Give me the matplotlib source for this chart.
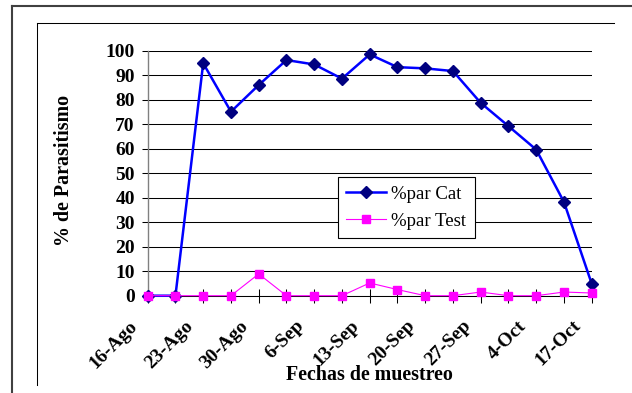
import matplotlib
matplotlib.use("Agg")
import matplotlib.pyplot as plt
import matplotlib.transforms as mtrans
from matplotlib.lines import Line2D
import numpy as np

# sampling dates (labels shown on every other sample)
fechas = ["16-Ago", "23-Ago", "30-Ago", "6-Sep", "13-Sep",
          "20-Sep", "27-Sep", "4-Oct", "17-Oct"]
par_cat = [0, 0, 95.0, 75.2, 86.1, 96.3, 94.5, 88.7, 98.6, 93.4,
           92.9, 91.8, 78.8, 69.3, 59.7, 38.3, 4.9]
par_test = [0, 0, 0, 0, 8.9, 0, 0, 0, 5.2, 2.5,
            0, 0, 1.5, 0, 0, 1.5, 1.1]

W, H = 632, 393
plt.rcParams['font.family'] = ['Liberation Serif', 'DejaVu Serif']

fig = plt.figure(figsize=(W / 100, H / 100), dpi=100)
fig.patch.set_facecolor("white")

def px(x, y):
    return x / W, 1 - y / H

# axes box in pixels: x 147.7..591.7, y 51..295.7
l, t = px(147.7, 51)
r, b = px(591.7, 295.7)
ax = fig.add_axes([l, b, r - l, t - b])

x = np.arange(len(par_cat))
ax.plot(x, par_cat, color="#0000FF", lw=1.8, marker="D", ms=6.5,
        mfc="#000080", mec="#000080", label="%par Cat", clip_on=False, zorder=3)
ax.plot(x, par_test, color="#FF00FF", lw=0.8, marker="s", ms=6,
        mfc="#FF00FF", mec="#FF00FF", label="%par Test", clip_on=False, zorder=4)

ax.set_xlim(0, len(par_cat) - 1)
ax.set_ylim(0, 100)
ax.set_yticks(np.arange(0, 101, 10))
ax.yaxis.grid(True, color="black", lw=0.75)
ax.set_axisbelow(True)

ax.set_xticks(x)
labels = []
for i in x:
    labels.append(fechas[i // 2] if i % 2 == 0 else "")
ax.set_xticklabels(labels, rotation=45, ha="right", va="bottom",
                   rotation_mode="anchor", fontsize=14, fontweight="bold")

ax.tick_params(axis="x", direction="inout", length=9.4, width=0.75,
               color="black", pad=17)
ax.tick_params(axis="y", direction="out", length=4.3, width=0.75,
               color="black", labelsize=14, pad=5)
for lab in ax.get_yticklabels():
    lab.set_fontweight("bold")

# excel puts the slanted labels a bit left of the tick
shift = mtrans.ScaledTranslation(-0.07, -0.035, fig.dpi_scale_trans)
for tk in ax.xaxis.get_major_ticks():
    tk.label1.set_transform(tk.label1.get_transform() + shift)

for s in ["top", "right"]:
    ax.spines[s].set_visible(False)
ax.spines["left"].set_color("#808080")
ax.spines["left"].set_linewidth(1)
ax.spines["bottom"].set_color("black")
ax.spines["bottom"].set_linewidth(0.75)

ax.set_xlabel("Fechas de muestreo", fontsize=14.4, fontweight="bold")
ax.xaxis.set_label_coords(0.5, -0.285)
ax.set_ylabel("% de Parasitismo", fontsize=14.4, fontweight="bold")
ax.yaxis.set_label_coords(-0.165, 0.51)

leg = ax.legend(loc="upper left", bbox_to_anchor=px(338, 177),
                bbox_transform=fig.transFigure, borderaxespad=0,
                fancybox=False, framealpha=1, edgecolor="black",
                fontsize=13.5, handlelength=2.1, handletextpad=0.3,
                labelspacing=0.55, borderpad=0.45)
leg.get_frame().set_linewidth(0.8)

# outer and inner frames around the chart
def fline(x0, y0, x1, y1, **kw):
    (a, c), (bb, d) = px(x0, y0), px(x1, y1)
    fig.add_artist(Line2D([a, bb], [c, d], transform=fig.transFigure, **kw))

fline(12, 6, W, 6, color="#404040", lw=1.5)
fline(12, 6, 12, H, color="#404040", lw=1.5)
fline(36.7, 23.3, 614, 23.3, color="black", lw=0.75)
fline(36.7, 23.3, 36.7, 384.7, color="black", lw=0.75)

fig.savefig("out.png", dpi=100)
